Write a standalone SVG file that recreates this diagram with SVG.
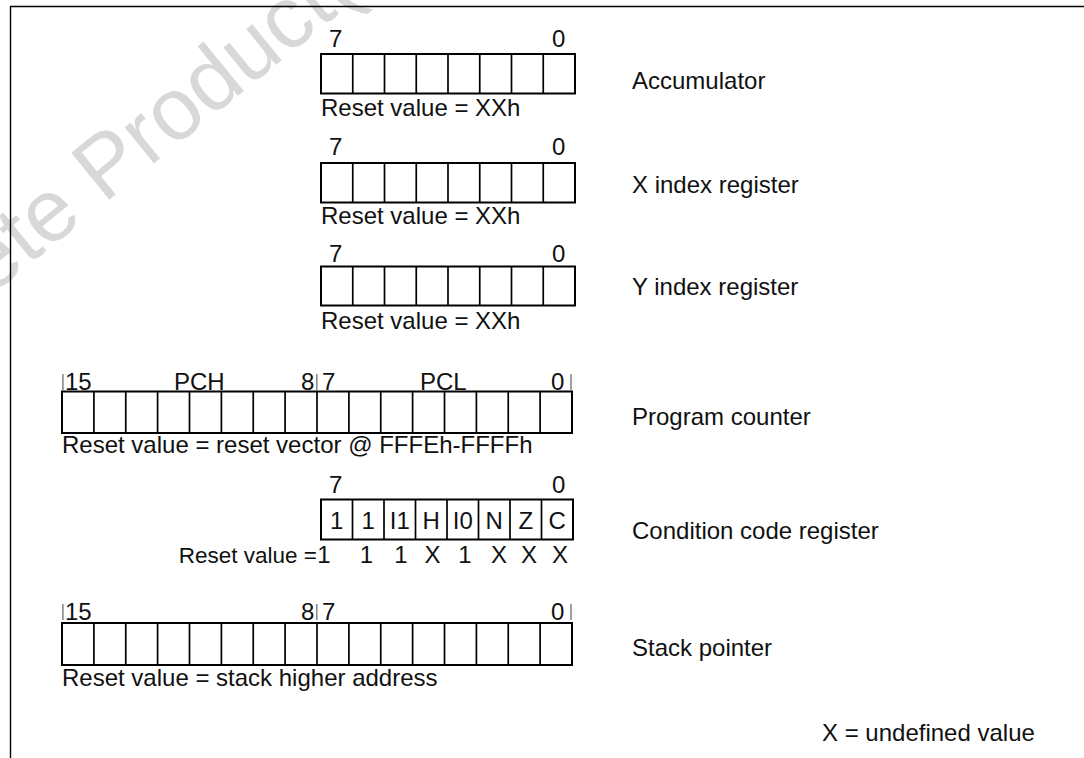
<svg xmlns="http://www.w3.org/2000/svg" width="1084" height="758" viewBox="0 0 1084 758">
<style>
text{font-family:"Liberation Sans",Arial,Helvetica,sans-serif;font-size:24px;fill:#111}
.box{fill:none;stroke:#000;stroke-width:2}
.div{fill:none;stroke:#000;stroke-width:1.7}
.bar{stroke:#8a8a8a;stroke-width:1.6}
.frame{fill:none;stroke:#000;stroke-width:1.4}
.wm{font-size:88px;fill:#d8d8d8}
.c{text-anchor:middle}
</style>
<rect width="1084" height="758" fill="#fff"/>
<text class="wm" transform="translate(104,204) rotate(-39)" x="-377" y="0">Obsolete Product(s)</text>
<path class="frame" d="M10.5,758 V6.5 H1084"/>
<g id="accumulator">
<rect class="box" x="321" y="54" width="254" height="39.5"/>
<path class="div" d="M352.75,54v39.5M384.5,54v39.5M416.25,54v39.5M448,54v39.5M479.75,54v39.5M511.5,54v39.5M543.25,54v39.5"/>
<text x="329" y="47">7</text><text x="552" y="47">0</text>
<text x="321" y="115.5">Reset value = XXh</text>
<text x="632" y="89">Accumulator</text>
</g>
<g id="x-index">
<rect class="box" x="321" y="163" width="254" height="39.5"/>
<path class="div" d="M352.75,163v39.5M384.5,163v39.5M416.25,163v39.5M448,163v39.5M479.75,163v39.5M511.5,163v39.5M543.25,163v39.5"/>
<text x="329" y="155">7</text><text x="552" y="155">0</text>
<text x="321" y="224">Reset value = XXh</text>
<text x="632" y="193">X index register</text>
</g>
<g id="y-index">
<rect class="box" x="321" y="266.5" width="254" height="39"/>
<path class="div" d="M352.75,266.5v39M384.5,266.5v39M416.25,266.5v39M448,266.5v39M479.75,266.5v39M511.5,266.5v39M543.25,266.5v39"/>
<text x="329" y="262">7</text><text x="552" y="262">0</text>
<text x="321" y="329">Reset value = XXh</text>
<text x="632" y="295">Y index register</text>
</g>
<g id="program-counter">
<path class="bar" d="M62.9,374v16M316.8,374v16M571,374v16"/>
<text x="65" y="389.5">15</text><text x="174" y="389.5">PCH</text><text x="301" y="389.5">8</text>
<text x="322" y="389.5">7</text><text x="420" y="389.5">PCL</text><text x="551" y="389.5">0</text>
<rect class="box" x="62" y="391.5" width="510" height="41.5"/>
<path class="div" d="M93.9,391.5v41.5M125.75,391.5v41.5M157.6,391.5v41.5M189.5,391.5v41.5M221.4,391.5v41.5M253.25,391.5v41.5M285.1,391.5v41.5M317,391.5v41.5M348.9,391.5v41.5M380.75,391.5v41.5M412.6,391.5v41.5M444.5,391.5v41.5M476.4,391.5v41.5M508.25,391.5v41.5M540.1,391.5v41.5"/>
<text x="62" y="453">Reset value = reset vector @ FFFEh-FFFFh</text>
<text x="632" y="425">Program counter</text>
</g>
<g id="condition-code">
<text x="329" y="493">7</text><text x="552" y="493">0</text>
<rect class="box" x="321" y="499.5" width="252" height="40"/>
<path class="div" d="M352.5,499.5v40M384,499.5v40M415.5,499.5v40M447,499.5v40M478.5,499.5v40M510,499.5v40M541.5,499.5v40"/>
<text class="c" x="336.75" y="529">1</text><text class="c" x="368.25" y="529">1</text><text class="c" x="399.75" y="529">I1</text><text class="c" x="431.25" y="529">H</text>
<text class="c" x="462.75" y="529">I0</text><text class="c" x="494.25" y="529">N</text><text class="c" x="525.75" y="529">Z</text><text class="c" x="557.25" y="529">C</text>
<text x="317" y="563" text-anchor="end" style="font-size:22.5px">Reset value =</text>
<text class="c" x="324" y="563">1</text><text class="c" x="366.5" y="563">1</text><text class="c" x="401" y="563">1</text><text class="c" x="432.5" y="563">X</text>
<text class="c" x="465" y="563">1</text><text class="c" x="499" y="563">X</text><text class="c" x="529" y="563">X</text><text class="c" x="560" y="563">X</text>
<text x="632" y="538.5">Condition code register</text>
</g>
<g id="stack-pointer">
<path class="bar" d="M62.9,604v16M316.8,604v16M571,604v16"/>
<text x="65" y="619.5">15</text><text x="301" y="619.5">8</text>
<text x="322" y="619.5">7</text><text x="551" y="619.5">0</text>
<rect class="box" x="62" y="623" width="510" height="42"/>
<path class="div" d="M93.9,623v42M125.75,623v42M157.6,623v42M189.5,623v42M221.4,623v42M253.25,623v42M285.1,623v42M317,623v42M348.9,623v42M380.75,623v42M412.6,623v42M444.5,623v42M476.4,623v42M508.25,623v42M540.1,623v42"/>
<text x="62" y="686">Reset value = stack higher address</text>
<text x="632" y="656">Stack pointer</text>
</g>
<g id="legend">
<text x="822" y="741">X = undefined value</text>
</g>
<g id="connectors"/>
</svg>
